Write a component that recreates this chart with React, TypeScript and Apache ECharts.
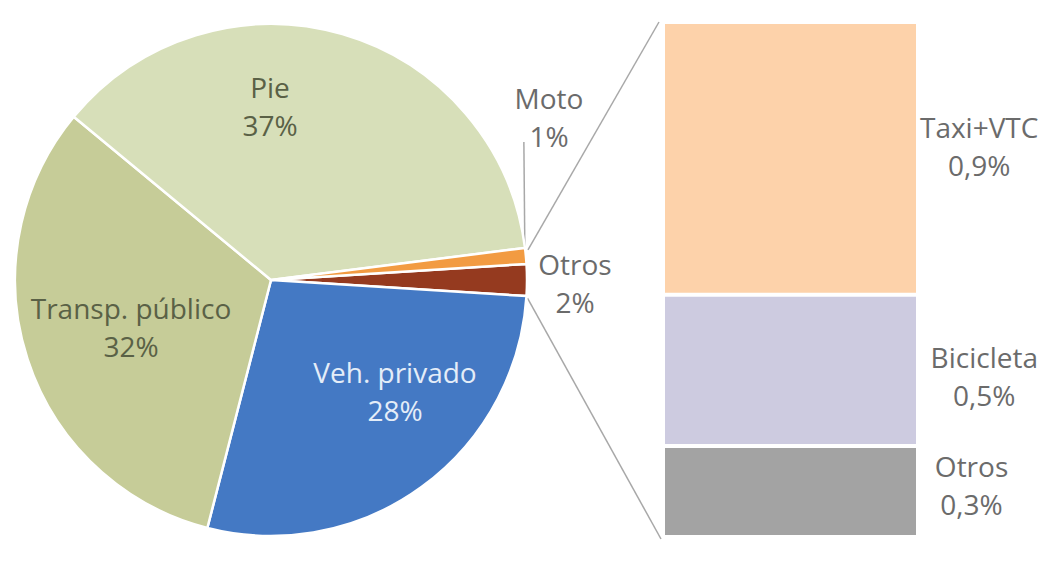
import React, { useEffect, useRef } from "react";
import * as echarts from "echarts";

// Main pie (percent of trips)
const pieNames = ["Otros", "Veh. privado", "Transp. público", "Pie", "Moto"];
const pieValues = [2, 28, 32, 37, 1];
const pieColors = ["#953a1f", "#4479c4", "#c6cc98", "#d7dfb9", "#f29b42"];
const pieTextColors = ["#6b6b6b", "#e4edf8", "#5a6146", "#5a6146", "#6b6b6b"];

// Breakdown of "Otros" (bar of pie), bottom to top
const barNames = ["Otros", "Bicicleta", "Taxi+VTC"];
const barValues = [0.3, 0.5, 0.9];
const barLabels = ["0,3%", "0,5%", "0,9%"];
const barColors = ["#a3a3a3", "#cdcbe0", "#fdd2aa"];

// label anchor points (label placement only)
const pieLabelPos: Record<string, [number, number]> = {
  "Pie": [270, 106],
  "Transp. público": [131, 327],
  "Veh. privado": [395, 391],
  "Moto": [549, 117],
  "Otros": [575, 283],
};
const barLabelPlace: Record<string, [string, number]> = {
  "Otros": ["121%", -7],
  "Bicicleta": ["126%", 6],
  "Taxi+VTC": ["124%", -12],
};

const FONT = "'Open Sans', Lato, sans-serif";
const CENTER: [number, number] = [271, 280];
const RADIUS = 256;
const START_ANGLE = 3.6;

export default function App() {
  const ref = useRef<HTMLDivElement>(null);
  useEffect(() => {
    if (!ref.current) return;
    const chart = echarts.init(ref.current, undefined, { renderer: "svg" });
    const total = barValues.reduce((a, b) => a + b, 0);
    const pieTotal = pieValues.reduce((a, b) => a + b, 0);

    chart.setOption({
      animation: false,
      backgroundColor: "#ffffff",
      grid: { left: 663, right: 120, top: 22, bottom: 28 },
      xAxis: { type: "category", data: ["Otros"], show: false },
      yAxis: { type: "value", min: 0, max: total, show: false },
      series: [
        {
          type: "pie",
          center: CENTER,
          radius: RADIUS,
          startAngle: START_ANGLE,
          clockwise: true,
          avoidLabelOverlap: false,
          data: pieNames.map((n, i) => ({
            name: n,
            value: pieValues[i],
            itemStyle: { color: pieColors[i], borderColor: "#ffffff", borderWidth: 2.5 },
            label: { color: pieTextColors[i] },
          })),
          label: {
            show: true,
            position: "inside",
            formatter: "{b}\n{c}%",
            fontFamily: FONT,
            fontSize: 28,
            lineHeight: 38,
            align: "center",
          },
          labelLine: { show: false },
          labelLayout: (p: any) => {
            const pos = pieLabelPos[pieNames[p.dataIndex]];
            return { x: pos[0], y: pos[1], align: "center", verticalAlign: "middle" };
          },
        },
        ...barNames.map((n, i) => ({
          type: "bar",
          name: n,
          stack: "otros",
          barWidth: 255,
          data: [barValues[i]],
          itemStyle: { color: barColors[i], borderColor: "#ffffff", borderWidth: 2 },
          label: {
            show: true,
            position: [barLabelPlace[n][0], "50%"],
            offset: [0, barLabelPlace[n][1]],
            align: "center",
            verticalAlign: "middle",
            formatter: n + "\n" + barLabels[i],
            fontFamily: FONT,
            fontSize: 28,
            lineHeight: 38,
            color: "#6b6b6b",
          },
        })),
      ],
    });

    // connector lines from pie slice edges to bar corners
    const angleAt = (cum: number) => ((START_ANGLE - (cum / pieTotal) * 360) * Math.PI) / 180;
    const edge = (a: number) => [CENTER[0] + RADIUS * Math.cos(a), CENTER[1] - RADIUS * Math.sin(a)];
    const cumBeforeMoto = pieValues.slice(0, 4).reduce((a, b) => a + b, 0);
    const upperStart = edge(angleAt(cumBeforeMoto));
    const lowerStart = edge(angleAt(pieValues[0]));
    const barTop = chart.convertToPixel({ gridIndex: 0 }, [0, total]) as number[];
    const barBottom = chart.convertToPixel({ gridIndex: 0 }, [0, 0]) as number[];
    const barLeft = barTop[0] - 127.5;
    const motoMid = edge(angleAt(cumBeforeMoto + pieValues[4] / 2));

    chart.setOption({
      graphic: [
        {
          type: "line",
          shape: { x1: upperStart[0] + 3, y1: upperStart[1] + 2, x2: barLeft - 4, y2: barTop[1] },
          style: { stroke: "#a8a8a8", lineWidth: 1.5 },
        },
        {
          type: "line",
          shape: { x1: lowerStart[0] + 1, y1: lowerStart[1] + 2, x2: barLeft - 2, y2: barBottom[1] + 2 },
          style: { stroke: "#a8a8a8", lineWidth: 1.5 },
        },
        {
          type: "line",
          shape: { x1: motoMid[0] - 1, y1: motoMid[1] - 4, x2: motoMid[0] - 2, y2: 142 },
          style: { stroke: "#a8a8a8", lineWidth: 1.5 },
        },
      ],
    });

    return () => chart.dispose();
  }, []);
  return (
    <div
      ref={ref}
      style={{ position: "fixed", left: 0, top: 0, width: 1038, height: 565 }}
    />
  );
}
